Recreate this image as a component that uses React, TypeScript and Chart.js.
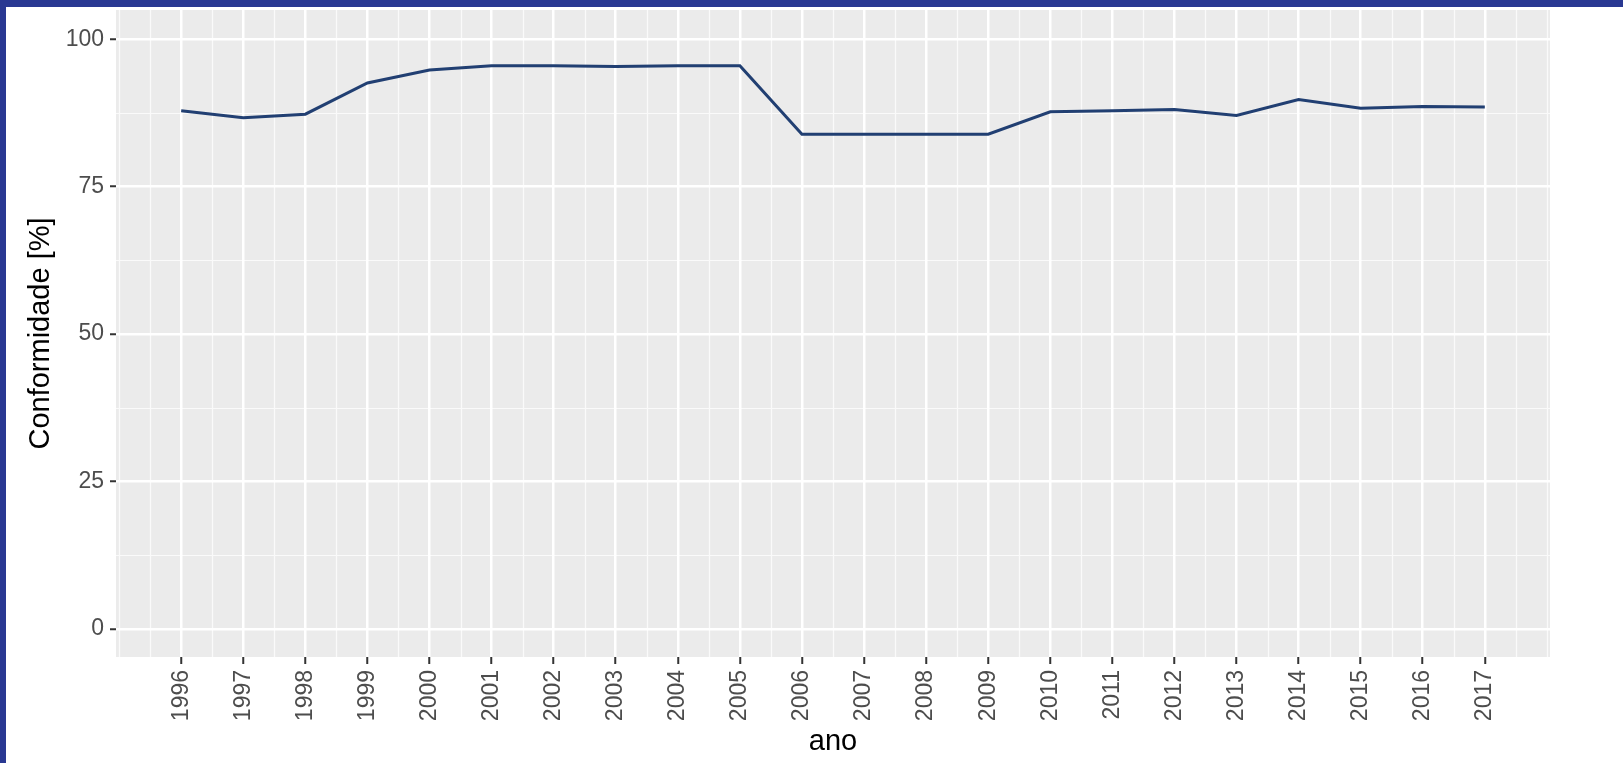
import React, { useEffect, useRef } from 'react';
import { Chart, registerables } from 'chart.js';

Chart.register(...registerables);

const years = [1996, 1997, 1998, 1999, 2000, 2001, 2002, 2003, 2004, 2005, 2006, 2007, 2008, 2009, 2010, 2011, 2012, 2013, 2014, 2015, 2016, 2017];
const conformidade = [87.9, 86.7, 87.3, 92.6, 94.8, 95.5, 95.5, 95.4, 95.5, 95.5, 83.9, 83.9, 83.9, 83.9, 87.7, 87.9, 88.1, 87.1, 89.8, 88.3, 88.6, 88.5];
const yTicks = [0, 25, 50, 75, 100];
const yMinorTicks = [12.5, 37.5, 62.5, 87.5];
const xMinorTicks = [years[0] - 1, years[0] - 0.5, ...years.map((v) => v + 0.5), years[years.length - 1] + 1];

const FONT = "'Liberation Sans', Arial, sans-serif";

const panelPlugin = {
  id: 'ggPanel',
  beforeDraw(chart: any) {
    const { ctx, chartArea: a, scales } = chart;
    const x = scales.x;
    const y = scales.y;
    ctx.save();
    ctx.fillStyle = '#EBEBEB';
    ctx.fillRect(a.left, a.top, a.right - a.left, a.bottom - a.top);
    ctx.strokeStyle = '#FAFAFA';
    ctx.lineWidth = 1.2;
    ctx.beginPath();
    for (const v of xMinorTicks) {
      const px = Math.round(x.getPixelForValue(v)) + 0.5;
      if (px < a.left || px > a.right) continue;
      ctx.moveTo(px, a.top);
      ctx.lineTo(px, a.bottom);
    }
    for (const v of yMinorTicks) {
      const py = Math.round(y.getPixelForValue(v)) + 0.5;
      if (py < a.top || py > a.bottom) continue;
      ctx.moveTo(a.left, py);
      ctx.lineTo(a.right, py);
    }
    ctx.stroke();
    ctx.restore();
  },
};

export default function App() {
  const canvasRef = useRef<HTMLCanvasElement | null>(null);

  useEffect(() => {
    document.body.style.margin = '0';
    document.body.style.overflow = 'hidden';
    const canvas = canvasRef.current;
    if (!canvas) return;
    const chart = new Chart(canvas, {
      type: 'line',
      data: {
        datasets: [
          {
            label: 'Conformidade',
            data: years.map((yr, i) => ({ x: yr, y: conformidade[i] })),
            borderColor: '#213F72',
            backgroundColor: '#213F72',
            borderWidth: 3,
            pointRadius: 0,
            pointHoverRadius: 0,
            tension: 0,
            fill: false,
          },
        ],
      },
      plugins: [panelPlugin],
      options: {
        responsive: false,
        animation: false,
        devicePixelRatio: 1,
        events: [],
        layout: { padding: { left: 0, top: 3, right: 73, bottom: 0 } },
        plugins: {
          legend: { display: false },
          tooltip: { enabled: false },
        },
        scales: {
          x: {
            type: 'linear',
            min: 1994.95,
            max: 2018.05,
            afterBuildTicks: (s: any) => {
              s.ticks = years.map((v) => ({ value: v }));
            },
            afterFit: (s: any) => {
              s.height = 106;
              s.paddingLeft = 0;
              s.paddingRight = 0;
              s.paddingTop = 0;
              s.paddingBottom = 0;
            },
            border: { display: false },
            grid: {
              color: '#FFFFFF',
              lineWidth: 2.5,
              drawTicks: true,
              tickColor: '#333333',
              tickLength: 7,
              tickWidth: 2,
            },
            ticks: {
              autoSkip: false,
              minRotation: 90,
              maxRotation: 90,
              padding: 6,
              color: '#4D4D4D',
              font: { family: FONT, size: 23 },
              callback: (v: any) => String(v),
            },
            title: {
              display: true,
              text: 'ano',
              color: '#000000',
              font: { family: FONT, size: 29 },
              padding: { top: 0, bottom: 4 },
            },
          },
          y: {
            type: 'linear',
            min: -4.75,
            max: 104.97,
            afterBuildTicks: (s: any) => {
              s.ticks = yTicks.map((v) => ({ value: v }));
            },
            afterFit: (s: any) => {
              s.width = 110;
              s.paddingLeft = 0;
              s.paddingRight = 0;
              s.paddingTop = 0;
              s.paddingBottom = 0;
            },
            border: { display: false },
            grid: {
              color: '#FFFFFF',
              lineWidth: 2.5,
              drawTicks: true,
              tickColor: '#333333',
              tickLength: 6,
              tickWidth: 2,
            },
            ticks: {
              padding: 6,
              color: '#4D4D4D',
              font: { family: FONT, size: 23 },
              callback: (v: any) => String(v),
            },
            title: {
              display: true,
              text: 'Conformidade [%]',
              color: '#000000',
              font: { family: FONT, size: 29 },
              padding: { top: 18, bottom: 0 },
            },
          },
        },
      } as any,
    });
    return () => {
      chart.destroy();
    };
  }, []);

  return (
    <div
      style={{
        width: 1623,
        height: 763,
        boxSizing: 'border-box',
        background: '#293892',
        paddingTop: 7,
        paddingLeft: 6,
        overflow: 'hidden',
      }}
    >
      <style>{`body{margin:0;}`}</style>
      <div style={{ width: 1617, height: 756, background: '#FFFFFF' }}>
        <canvas ref={canvasRef} width={1617} height={756} style={{ display: 'block' }} />
      </div>
    </div>
  );
}
